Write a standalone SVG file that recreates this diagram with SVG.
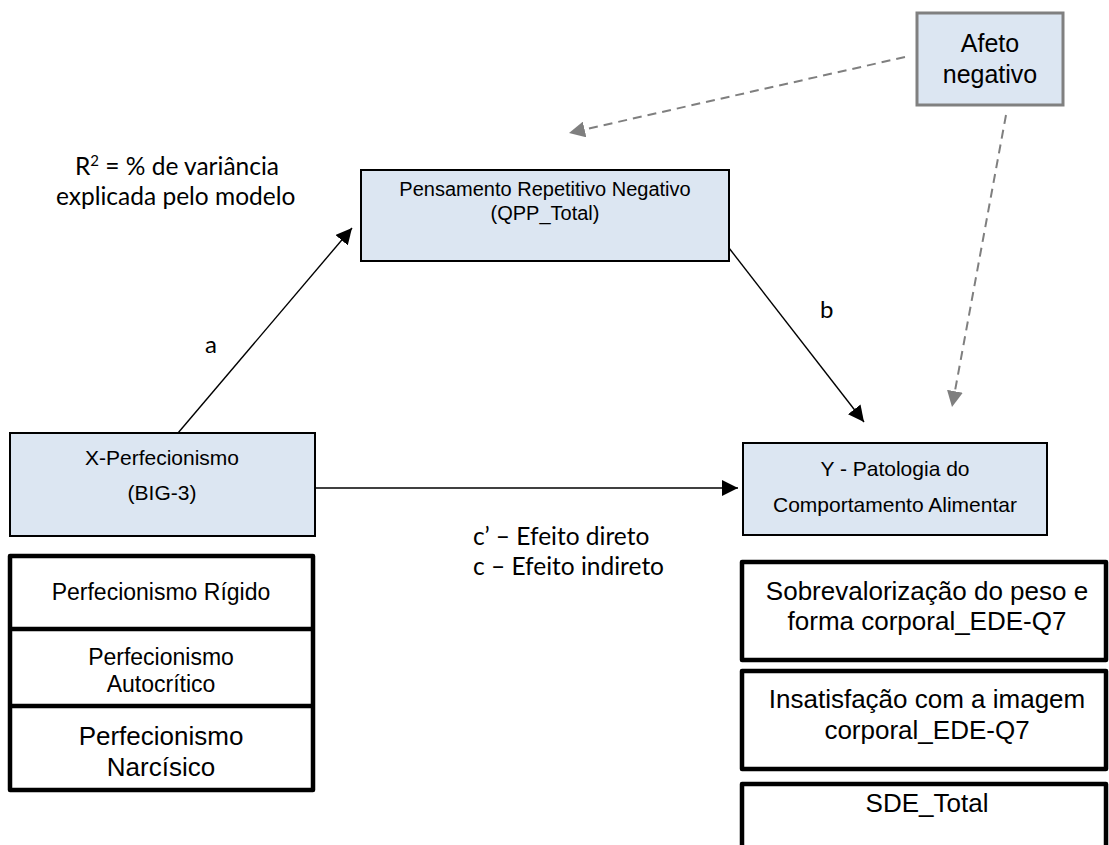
<svg xmlns="http://www.w3.org/2000/svg" width="1109" height="845" viewBox="0 0 1109 845">
  <style>
    .box { fill: #dce6f2; stroke: #000; stroke-width: 2; }
    .box-gray { fill: #dce6f2; stroke: #808080; stroke-width: 3; }
    .list { fill: #fff; stroke: #000; stroke-width: 4.5; stroke-linejoin: round; }
    .txt { font-family: "Liberation Sans", Arial, sans-serif; fill: #000; text-anchor: middle; }
    .cal { font-family: Lato, "Open Sans", sans-serif; fill: #000; }
    .solid { stroke: #000; stroke-width: 1.4; fill: none; }
    .dash { stroke: #7f7f7f; stroke-width: 2; stroke-dasharray: 9 6; fill: none; }
  </style>
  <defs>
    <marker id="arrow-black" markerUnits="userSpaceOnUse" markerWidth="17" markerHeight="16" refX="16" refY="8" orient="auto">
      <path d="M0,0 L16,8 L0,16 z" fill="#000"/>
    </marker>
    <marker id="arrow-gray" markerUnits="userSpaceOnUse" markerWidth="17" markerHeight="16" refX="16" refY="8" orient="auto">
      <path d="M0,0 L16,8 L0,16 z" fill="#7f7f7f"/>
    </marker>
  </defs>

  <rect width="1109" height="845" fill="#fff"/>

  <!-- connectors -->
  <g id="connectors">
    <line class="solid" x1="178" y1="433" x2="352" y2="228" marker-end="url(#arrow-black)"/>
    <line class="solid" x1="729" y1="248" x2="864" y2="422" marker-end="url(#arrow-black)"/>
    <line class="solid" x1="315" y1="488" x2="738" y2="488" marker-end="url(#arrow-black)"/>
    <line class="dash" x1="905" y1="57" x2="569" y2="133" marker-end="url(#arrow-gray)"/>
    <line class="dash" x1="1006" y1="115" x2="952" y2="407" marker-end="url(#arrow-gray)"/>
  </g>

  <!-- path labels -->
  <g id="labels">
    <text class="cal" x="75" y="175" font-size="24.5">R<tspan font-size="15" dy="-9">2</tspan><tspan dy="9"> = % de variância</tspan></text>
    <text class="cal" x="56" y="205" font-size="24.5">explicada pelo modelo</text>
    <text class="cal" x="205" y="353" font-size="24">a</text>
    <text class="cal" x="820" y="318" font-size="24">b</text>
    <text class="cal" x="473" y="545" font-size="24.5">c’ – Efeito direto</text>
    <text class="cal" x="473" y="575" font-size="24.5">c – Efeito indireto</text>
  </g>

  <g id="node-afeto">
    <rect class="box-gray" x="917" y="13" width="146" height="92"/>
    <text class="txt" x="990" y="52" font-size="25">Afeto</text>
    <text class="txt" x="990" y="83" font-size="25">negativo</text>
  </g>

  <g id="node-prn">
    <rect class="box" x="361" y="170" width="368" height="91"/>
    <text class="txt" x="545" y="196" font-size="20">Pensamento Repetitivo Negativo</text>
    <text class="txt" x="545" y="220" font-size="20">(QPP_Total)</text>
  </g>

  <g id="node-x">
    <rect class="box" x="10" y="433" width="305" height="103"/>
    <text class="txt" x="162" y="465" font-size="21">X-Perfecionismo</text>
    <text class="txt" x="162" y="500" font-size="21">(BIG-3)</text>
  </g>

  <g id="node-y">
    <rect class="box" x="743" y="443" width="304" height="92"/>
    <text class="txt" x="895" y="476" font-size="21">Y - Patologia do</text>
    <text class="txt" x="895" y="512" font-size="21">Comportamento Alimentar</text>
  </g>

  <g id="node-x-dimensions">
    <rect class="list" x="10" y="556" width="303" height="234"/>
    <line x1="10" y1="629" x2="313" y2="629" stroke="#000" stroke-width="4.5"/>
    <line x1="10" y1="706" x2="313" y2="706" stroke="#000" stroke-width="4.5"/>
    <text class="txt" x="161" y="600" font-size="23">Perfecionismo Rígido</text>
    <text class="txt" x="161" y="665" font-size="23">Perfecionismo</text>
    <text class="txt" x="161" y="692" font-size="23">Autocrítico</text>
    <text class="txt" x="161" y="745" font-size="26">Perfecionismo</text>
    <text class="txt" x="161" y="776" font-size="26">Narcísico</text>
  </g>

  <g id="node-y-dimensions">
    <rect class="list" x="742" y="562" width="364" height="98"/>
    <text class="txt" x="927" y="600" font-size="26">Sobrevalorização do peso e</text>
    <text class="txt" x="927" y="630" font-size="26">forma corporal_EDE-Q7</text>
    <rect class="list" x="742" y="671" width="364" height="98"/>
    <text class="txt" x="927" y="708" font-size="26">Insatisfação com a imagem</text>
    <text class="txt" x="927" y="739" font-size="26">corporal_EDE-Q7</text>
    <rect class="list" x="742" y="784" width="364" height="80"/>
    <text class="txt" x="927" y="812" font-size="26">SDE_Total</text>
  </g>
</svg>
